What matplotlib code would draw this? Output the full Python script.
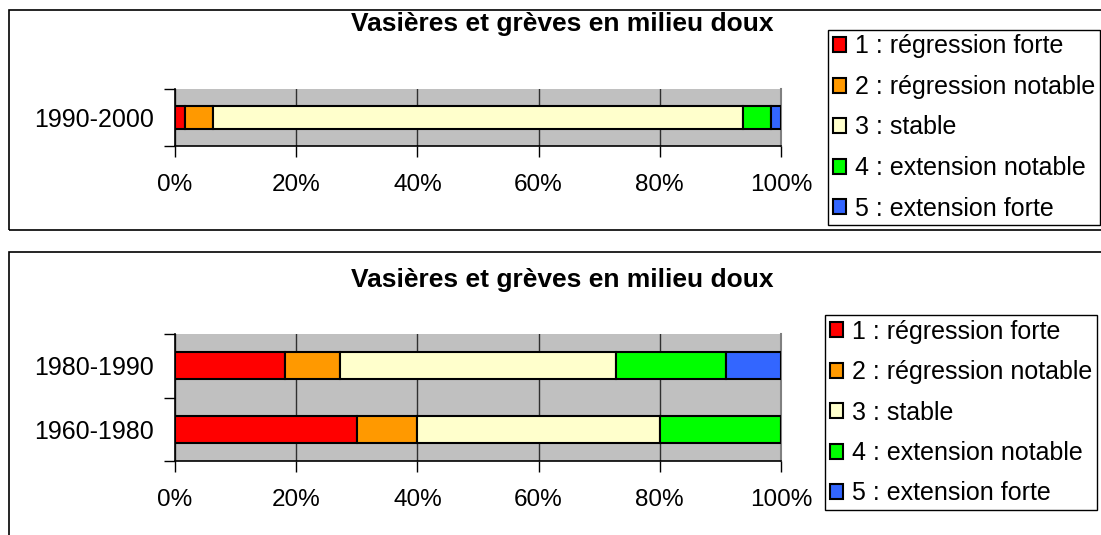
import matplotlib
matplotlib.use("Agg")
import numpy as np
from matplotlib import pyplot as plt
from matplotlib.patches import Rectangle

plt.rcParams['font.family'] = ['Liberation Sans', 'DejaVu Sans']

# données
titre = "Vasières et grèves en milieu doux"
classes = ["1 : régression forte", "2 : régression notable", "3 : stable",
           "4 : extension notable", "5 : extension forte"]
couleurs = ["#FF0000", "#FF9900", "#FFFFCC", "#00FF00", "#3366FF"]

periodes_haut = ["1990-2000"]
valeurs_haut = [[1.6], [4.7], [87.5], [4.5], [1.7]]

periodes_bas = ["1960-1980", "1980-1990"]
valeurs_bas = [[30, 18.2], [10, 9.1], [40, 45.5], [20, 18.2], [0, 9.0]]

W, H = 1101, 535
fig = plt.figure(figsize=(W / 100, H / 100), dpi=100)


def fx(px):
    return px / W


def fy(px):
    return 1 - px / H


def panneau(y_haut, y_bas, ax_haut, ax_bas, titre_y, leg_haut, periodes, valeurs):
    # cadre du graphique
    fig.patches.append(Rectangle((fx(9), fy(y_bas)), fx(1200) - fx(9), fy(y_haut) - fy(y_bas),
                                 transform=fig.transFigure, fill=False,
                                 edgecolor="black", linewidth=1.2))
    fig.text(fx(562), fy(titre_y), titre, ha="center", va="center",
             fontsize=19, fontweight="bold")

    ax = fig.add_axes([fx(175), fy(ax_bas), fx(781) - fx(175), fy(ax_haut) - fy(ax_bas)])
    ax.set_facecolor("#C0C0C0")
    y = np.arange(len(periodes))
    gauche = np.zeros(len(periodes))
    handles = []
    for nom, col, vals in zip(classes, couleurs, valeurs):
        b = ax.barh(y, vals, left=gauche, height=0.42, color=col,
                    edgecolor="black", linewidth=1.5, label=nom, zorder=3)
        handles.append(b)
        gauche = gauche + np.array(vals)

    ax.set_xlim(0, 100)
    ax.set_ylim(-0.5, len(periodes) - 0.5)
    ax.set_xticks(np.arange(0, 101, 20))
    ax.set_xticklabels(["%d%%" % v for v in range(0, 101, 20)], fontsize=17.5)
    ax.xaxis.grid(True, color="#303030", linewidth=1, zorder=1)
    ax.set_axisbelow(True)
    ax.tick_params(axis="x", direction="out", length=8, width=1, pad=12)

    ax.set_yticks(np.arange(-0.5, len(periodes), 1.0))
    ax.set_yticklabels([])
    ax.set_yticks(y, minor=True)
    ax.set_yticklabels(periodes, minor=True, fontsize=18)
    ax.tick_params(axis="y", which="major", direction="out", length=8, width=1)
    ax.tick_params(axis="y", which="minor", length=0, pad=15)

    ax.spines["top"].set_visible(False)
    ax.spines["right"].set_color("#808080")
    ax.spines["right"].set_linewidth(1.5)
    ax.spines["left"].set_linewidth(1.2)
    ax.spines["bottom"].set_linewidth(1.2)

    leg = fig.legend(handles=handles, labels=classes, loc="upper left",
                     bbox_to_anchor=(fx(leg_haut[0]), fy(leg_haut[1])),
                     fontsize=18, frameon=True, fancybox=False, framealpha=1,
                     edgecolor="black", handlelength=0.55, handleheight=0.55,
                     handletextpad=0.35, labelspacing=0.66, borderpad=0.18,
                     borderaxespad=0)
    leg.get_frame().set_linewidth(1.0)


panneau(10, 230, 89, 146, 24, (828, 30), periodes_haut, valeurs_haut)
panneau(252, 600, 334, 461, 280, (825, 315), periodes_bas, valeurs_bas)

fig.savefig("out.png", dpi=100)
